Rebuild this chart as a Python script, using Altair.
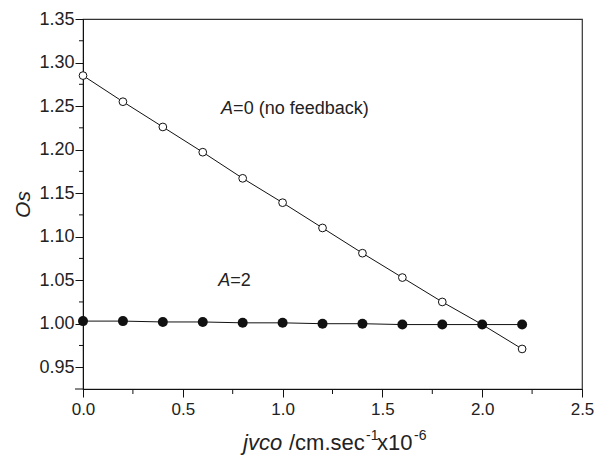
import altair as alt
import pandas as pd

# ---- data ----
jvco = [0.0, 0.2, 0.4, 0.6, 0.8, 1.0, 1.2, 1.4, 1.6, 1.8, 2.0, 2.2]
os_a0 = [1.285, 1.255, 1.226, 1.197, 1.167, 1.139, 1.110, 1.081, 1.053, 1.025, 0.999, 0.971]
os_a2 = [1.003, 1.003, 1.002, 1.002, 1.001, 1.001, 1.000, 1.000, 0.999, 0.999, 0.999, 0.999]

x_major = [0.0, 0.5, 1.0, 1.5, 2.0, 2.5]
x_minor = [0.25, 0.75, 1.25, 1.75, 2.25]
y_major = [0.95, 1.0, 1.05, 1.1, 1.15, 1.2, 1.25, 1.3, 1.35]
y_minor = [0.975, 1.025, 1.075, 1.125, 1.175, 1.225, 1.275, 1.325]
y_corner = [0.925]

ann_italic = ["A", "A"]
ann_rest = ["=0 (no feedback)", "=2"]
ann_x = [0.692, 0.678]
ann_y = [1.2406, 1.0435]

FONT = "Liberation Sans"
INK = "#111"

df0 = pd.DataFrame({"x": jvco, "y": os_a0, "s": "A=0"})
df2 = pd.DataFrame({"x": jvco, "y": os_a2, "s": "A=2"})
df = pd.concat([df0, df2])
ann = pd.DataFrame({"x": ann_x, "y": ann_y, "it": ann_italic, "rest": ann_rest})

W, H = 499, 370

xenc = alt.X("x:Q", scale=alt.Scale(domain=[0, 2.5], nice=False, zero=False),
             axis=alt.Axis(values=x_major, format=".1f", title=None, grid=False,
                           tickSize=8, labelFont=FONT, labelFontSize=17, labelColor="#222",
                           labelPadding=4, domainColor=INK, tickColor=INK,
                           labelFlush=False, labelOverlap=False))
yenc = alt.Y("y:Q", scale=alt.Scale(domain=[0.925, 1.35], nice=False, zero=False),
             axis=alt.Axis(values=y_major, format=".2f", title="Os", grid=False,
                           tickSize=8, labelFont=FONT, labelFontSize=18, labelColor="#222",
                           labelPadding=1, domainColor=INK, tickColor=INK,
                           titleFont=FONT, titleFontSize=21, titleFontStyle="italic",
                           titleFontWeight="normal", titleColor="#222", titlePadding=5,
                           labelFlush=False, labelOverlap=False))

lines = alt.Chart(df).mark_line(color=INK, strokeWidth=1).encode(x=xenc, y=yenc, detail="s:N")
open_pts = alt.Chart(df0).mark_point(shape="circle", filled=False, fill="white",
                                     stroke=INK, strokeWidth=1, size=60, opacity=1).encode(x="x:Q", y="y:Q")
filled_pts = alt.Chart(df2).mark_circle(color=INK, size=100, opacity=1).encode(x="x:Q", y="y:Q")

# minor ticks
xmin_t = alt.Chart(pd.DataFrame({"x": x_minor})).mark_rule(color=INK, strokeWidth=1).encode(
    x="x:Q", y=alt.value(H), y2=alt.value(H + 5))
ymin_t = alt.Chart(pd.DataFrame({"y": y_minor})).mark_rule(color=INK, strokeWidth=1).encode(
    y="y:Q", x=alt.value(-4), x2=alt.value(0))
ycor_t = alt.Chart(pd.DataFrame({"y": y_corner})).mark_rule(color=INK, strokeWidth=1).encode(
    y="y:Q", x=alt.value(-8), x2=alt.value(0))

ann_it = alt.Chart(ann).mark_text(font=FONT, fontSize=18, fontStyle="italic", align="left",
                                  baseline="alphabetic", color="#222").encode(x="x:Q", y="y:Q", text="it:N")
ann_rest_t = alt.Chart(ann).mark_text(font=FONT, fontSize=18, align="left", dx=12,
                                      baseline="alphabetic", color="#222").encode(x="x:Q", y="y:Q", text="rest:N")

# x-axis title pieces (mixed italic / superscripts)
t_text = ["jvco", "/cm.sec", "-1", "x10", "-6"]
t_px = [160, 206, 283, 294, 331]
t_py = [431, 431, 421, 431, 421]
t_fs = [22, 22, 14, 22, 14]
t_st = ["italic", "normal", "normal", "normal", "normal"]
title_layers = []
for t, px, py, fs, st in zip(t_text, t_px, t_py, t_fs, t_st):
    title_layers.append(
        alt.Chart(pd.DataFrame({"t": [t]})).mark_text(
            font=FONT, fontSize=fs, fontStyle=st, align="left",
            baseline="alphabetic", color="#222"
        ).encode(x=alt.value(px), y=alt.value(py), text="t:N")
    )

chart = alt.layer(lines, open_pts, filled_pts, xmin_t, ymin_t, ycor_t,
                  ann_it, ann_rest_t, *title_layers).properties(
    width=W, height=H,
    background="white",
    autosize=alt.AutoSizeParams(type="none"),
    padding={"left": 75, "top": 11, "right": 13, "bottom": 66},
).configure_view(stroke="#333", strokeWidth=1.2)

chart.save("out.html", embed_options={"renderer": "svg", "actions": False})
